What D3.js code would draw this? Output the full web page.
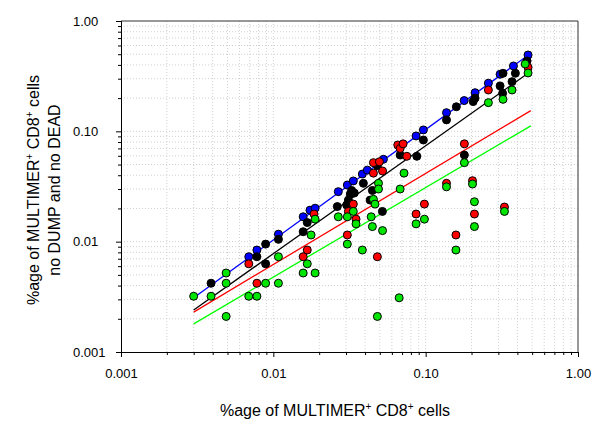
<!DOCTYPE html>
<html><head><meta charset="utf-8">
<script src="https://cdn.jsdelivr.net/npm/d3@7"></script>
<style>
body{margin:0;background:#fff;}
text{font-family:"Liberation Sans",Arial,sans-serif;}
</style></head>
<body><svg id="c" width="600" height="436"></svg>
<script>
// ---- data ----
const majorTicks = [0.001, 0.01, 0.1, 1];
const xTickLabels = ["0.001", "0.01", "0.10", "1.00"];
const yTickLabels = ["0.001", "0.01", "0.10", "1.00"];

const blueX  = [0.0069,0.0078,0.0108,0.0157,0.0174,0.0188,0.0267,0.0306,0.0335,0.0384,0.0414,0.0528,0.0865,0.0966,0.137,0.179,0.211,0.258,0.308,0.377,0.47];
const blueY  = [0.0073,0.0084,0.0117,0.0168,0.0193,0.0201,0.0284,0.0326,0.0355,0.041,0.0445,0.0558,0.0908,0.103,0.1476,0.190,0.224,0.273,0.329,0.391,0.492];

const blackX = [0.0039,0.0078,0.0089,0.0089,0.0108,0.0157,0.0167,0.0263,0.0303,0.0311,0.0327,0.0340,0.0320,0.039,0.0432,0.0447,0.0482,0.052,0.068,0.0875,0.0966,0.137,0.159,0.1795,0.205,0.211,0.308,0.32,0.322,0.369,0.388,0.463];
const blackY = [0.0042,0.0073,0.0095,0.0063,0.0105,0.0123,0.0149,0.0208,0.0215,0.0238,0.0291,0.0276,0.0270,0.0338,0.0238,0.0291,0.0488,0.0188,0.061,0.0594,0.0835,0.127,0.167,0.061,0.186,0.200,0.258,0.221,0.336,0.282,0.336,0.434];

const redX = [0.0069,0.0078,0.0157,0.0167,0.0185,0.0306,0.0311,0.0335,0.0349,0.0454,0.0454,0.0497,0.0521,0.0656,0.068,0.0711,0.0752,0.0482,0.0865,0.0981,0.137,0.158,0.1795,0.203,0.209,0.258,0.329,0.47];
const redY = [0.0063,0.0042,0.0073,0.0084,0.0178,0.0115,0.0188,0.0219,0.016,0.0418,0.052,0.053,0.0437,0.0752,0.0699,0.077,0.0594,0.0073,0.0178,0.0219,0.0338,0.0115,0.077,0.0357,0.0178,0.237,0.0206,0.38];

const greenX = [0.003,0.0039,0.0049,0.0049,0.0049,0.0069,0.0078,0.0089,0.0108,0.0108,0.0177,0.0167,0.0157,0.0188,0.0188,0.0267,0.0306,0.0306,0.0335,0.0349,0.0384,0.0439,0.0447,0.0454,0.0465,0.049,0.049,0.0521,0.0482,0.0721,0.068,0.067,0.0865,0.0981,0.137,0.158,0.1795,0.203,0.209,0.209,0.258,0.322,0.329,0.369,0.45,0.47];
const greenY = [0.0032,0.0032,0.0052,0.0042,0.0021,0.0032,0.0032,0.0042,0.0042,0.0073,0.0115,0.0063,0.0052,0.0052,0.016,0.0168,0.0168,0.0095,0.0188,0.0145,0.0084,0.0168,0.0137,0.0242,0.0219,0.0338,0.030,0.0126,0.0021,0.0418,0.030,0.0031,0.0145,0.016,0.0314,0.0084,0.052,0.0333,0.023,0.0137,0.182,0.195,0.0188,0.237,0.408,0.338];

// regression line end points (x from, x to; y from, y to)
const fitX     = [0.003, 0.49];
const blueFit  = [0.0031, 0.51];
const blackFit = [0.0024, 0.35];
const redFit   = [0.0023, 0.154];
const greenFit = [0.0018, 0.112];

const series = [
  {name:"blue",  xs:blueX,  ys:blueY,  fit:blueFit,  color:"#0000ff", line:"#0000ff"},
  {name:"black", xs:blackX, ys:blackY, fit:blackFit, color:"#000000", line:"#000000"},
  {name:"red",   xs:redX,   ys:redY,   fit:redFit,   color:"#ff0000", line:"#ff0000"},
  {name:"green", xs:greenX, ys:greenY, fit:greenFit, color:"#00e600", line:"#00ff00"}
];

// ---- chart ----
const svg = d3.select("#c");
const L=121, R=578, T=21, B=352;
const x = d3.scaleLog().domain([0.001,1]).range([L,R]);
const y = d3.scaleLog().domain([0.001,1]).range([B,T]);

const minor = [];
[0.001,0.01,0.1].forEach(d=>{for(let k=1;k<=9;k++){minor.push(d*k);}});
minor.push(1);
const minorOnly = minor.filter(v=>!majorTicks.some(m=>Math.abs(m-v)<1e-12));

// grid
const g = svg.append("g").attr("stroke","#d0d0d0").attr("stroke-width",1).attr("stroke-dasharray","1,2");
minor.filter(v=>v>0.001 && v<1).forEach(v=>{
  g.append("line").attr("x1",x(v)).attr("x2",x(v)).attr("y1",T).attr("y2",B);
  g.append("line").attr("x1",L).attr("x2",R).attr("y1",y(v)).attr("y2",y(v));
});

// frame
svg.append("line").attr("x1",L).attr("x2",R).attr("y1",T).attr("y2",T).attr("stroke","#333");
svg.append("line").attr("x1",R).attr("x2",R).attr("y1",T).attr("y2",B).attr("stroke","#333");

// axes
const xMinor = d3.axisBottom(x).tickValues(minorOnly).tickSize(3).tickFormat("");
const xMajor = d3.axisBottom(x).tickValues(majorTicks).tickSize(5).tickPadding(12)
  .tickFormat((d,i)=>xTickLabels[i]);
const yMinor = d3.axisLeft(y).tickValues(minorOnly).tickSize(3).tickFormat("");
const yMajor = d3.axisLeft(y).tickValues(majorTicks).tickSize(5).tickFormat("");

function style(sel){
  sel.select(".domain").attr("stroke","#000");
  sel.selectAll(".tick line").attr("stroke","#000");
  sel.selectAll("text").attr("font-family","Liberation Sans, Arial, sans-serif").attr("font-size",13).attr("fill","#000");
}
svg.append("g").attr("transform",`translate(0,${B})`).call(xMinor).call(style);
svg.append("g").attr("transform",`translate(0,${B})`).call(xMajor).call(style);
svg.append("g").attr("transform",`translate(${L},0)`).call(yMinor).call(style);
svg.append("g").attr("transform",`translate(${L},0)`).call(yMajor).call(style);

// y tick labels (left aligned, as in the original)
svg.append("g").selectAll("text").data(majorTicks).join("text")
  .attr("x",73).attr("y",d=>y(d)).attr("dy","0.35em")
  .attr("font-size",13).attr("fill","#000")
  .text((d,i)=>yTickLabels[i]);

// regression lines
series.forEach(s=>{
  svg.append("line")
    .attr("x1",x(fitX[0])).attr("y1",y(s.fit[0]))
    .attr("x2",x(fitX[1])).attr("y2",y(s.fit[1]))
    .attr("stroke",s.line).attr("stroke-width",1.3);
});

// points
series.forEach(s=>{
  svg.append("g").selectAll("circle").data(s.xs.map((v,i)=>[v,s.ys[i]])).join("circle")
    .attr("cx",d=>x(d[0])).attr("cy",d=>y(d[1])).attr("r",4)
    .attr("fill",s.color).attr("stroke","#000").attr("stroke-width",1);
});

// axis titles
function titleWithSup(t){
  t.append("tspan").text("%age of MULTIMER");
  t.append("tspan").text("+").attr("font-size",10).attr("dy",-6);
  t.append("tspan").text(" CD8").attr("font-size",16).attr("dy",6);
  t.append("tspan").text("+").attr("font-size",10).attr("dy",-6);
  t.append("tspan").text(" cells").attr("font-size",16).attr("dy",6);
}
const xt = svg.append("text").attr("x",335).attr("y",416).attr("text-anchor","middle")
  .attr("font-size",16).attr("fill","#000");
titleWithSup(xt);

const yt1 = svg.append("text").attr("transform","translate(39,190) rotate(-90)")
  .attr("text-anchor","middle").attr("font-size",16).attr("fill","#000");
titleWithSup(yt1);
svg.append("text").attr("transform","translate(60,190) rotate(-90)")
  .attr("text-anchor","middle").attr("font-size",16).attr("fill","#000")
  .text("no DUMP and no DEAD");
</script></body></html>
